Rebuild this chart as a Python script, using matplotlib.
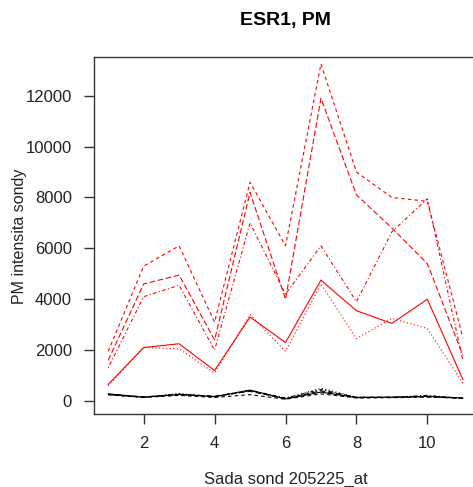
import matplotlib
matplotlib.use("Agg")
import matplotlib.pyplot as plt

plt.rcParams['font.family'] = ['Liberation Sans', 'DejaVu Sans']

x = [1, 2, 3, 4, 5, 6, 7, 8, 9, 10, 11]

# red probe sets (PM intensities)
red_solid = [650, 2100, 2250, 1200, 3300, 2300, 4750, 3550, 3050, 4000, 850]
red_dashed = [1950, 5300, 6100, 3100, 8600, 6100, 13250, 9000, 8000, 7850, 2500]
red_dotted = [600, 2100, 2050, 1100, 3400, 1950, 4600, 2450, 3250, 2850, 700]
red_dotdash = [1300, 4100, 4550, 2000, 7000, 4200, 6100, 3900, 6650, 7950, 1600]
red_longdash = [1600, 4600, 4950, 2400, 8200, 4000, 11900, 8100, 6800, 5400, 1800]

# black probe sets
blk_solid = [280, 150, 250, 170, 430, 80, 350, 130, 150, 180, 120]
blk_dashed = [240, 140, 220, 140, 250, 70, 280, 120, 130, 150, 120]
blk_dotted = [260, 140, 300, 150, 400, 100, 500, 150, 150, 200, 110]
blk_dotdash = [250, 150, 270, 180, 420, 120, 450, 140, 140, 220, 100]
blk_longdash = [270, 160, 260, 190, 380, 90, 400, 150, 150, 170, 100]

title = "ESR1, PM"
xlabel = "Sada sond 205225_at"
ylabel = "PM intensita sondy"
xticks = [2, 4, 6, 8, 10]
yticks = [0, 2000, 4000, 6000, 8000, 10000, 12000]

styles = {
    'solid': '-',
    'dashed': (0, (3.2, 2.8)),
    'dotted': (0, (1.0, 2.2)),
    'dotdash': (0, (1.0, 2.2, 3.2, 2.2)),
    'longdash': (0, (5.0, 2.4)),
}

W, H = 473, 487
fig = plt.figure(figsize=(W / 100, H / 100), dpi=100)
ax = fig.add_axes([94 / W, (H - 414) / H, (477 - 94) / W, (414 - 56.7) / H])

lw = 0.8
series = [
    (blk_solid, 'black', 'solid'), (blk_dashed, 'black', 'dashed'),
    (blk_dotted, 'black', 'dotted'), (blk_dotdash, 'black', 'dotdash'),
    (blk_longdash, 'black', 'longdash'),
    (red_solid, 'red', 'solid'), (red_dashed, 'red', 'dashed'),
    (red_dotted, 'red', 'dotted'), (red_dotdash, 'red', 'dotdash'),
    (red_longdash, 'red', 'longdash'),
]
for vals, col, st in series:
    ax.plot(x, vals, color=col, linestyle=styles[st], linewidth=lw)

ax.set_xlim(0.6, 11.4)
ax.set_ylim(-511, 13534)
ax.set_xticks(xticks)
ax.set_xticklabels([str(t) for t in xticks])
ax.set_yticks(yticks)
ax.set_yticklabels([str(t) for t in yticks])

for s in ax.spines.values():
    s.set_color('#333333')
    s.set_linewidth(1.0)
ax.tick_params(axis='both', direction='out', length=7, width=1.0, color='#333333',
               labelsize=12, labelcolor='#222222')
ax.tick_params(axis='x', pad=9)
ax.tick_params(axis='y', pad=9)

fig.text(285.5 / W, 1 - 20.7 / H, title, ha='center', va='center',
         fontsize=14, fontweight='bold', color='black')
fig.text(285.5 / W, 1 - 479 / H, xlabel, ha='center', va='center',
         fontsize=12, color='#222222')
fig.text(19.5 / W, 1 - 236 / H, ylabel, ha='center', va='center',
         rotation=90, fontsize=11.5, color='#222222')

fig.savefig("out.png", dpi=100)
